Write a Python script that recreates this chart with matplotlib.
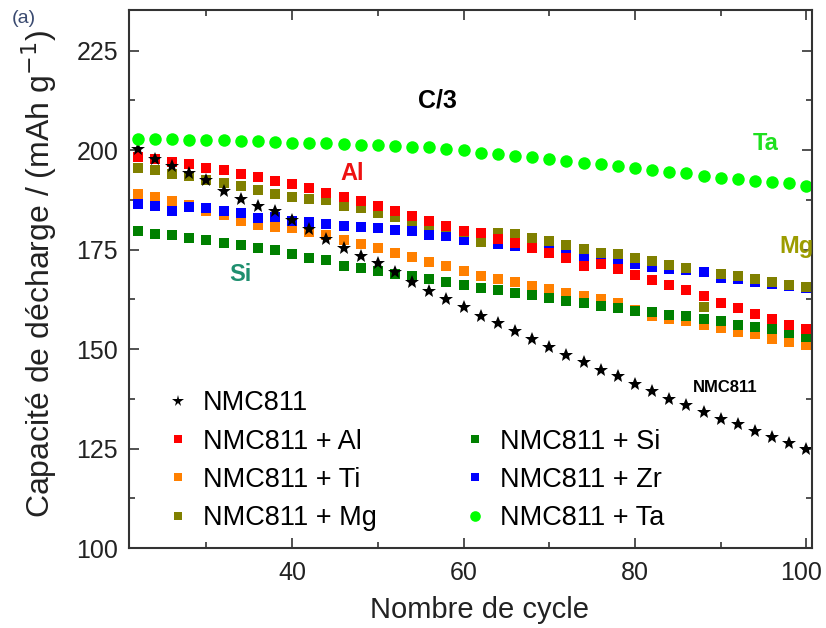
import matplotlib
matplotlib.use("Agg")
import matplotlib.pyplot as plt
from matplotlib.lines import Line2D
from matplotlib.ticker import MultipleLocator
from matplotlib.transforms import ScaledTranslation
import numpy as np

plt.rcParams['font.family'] = ['Liberation Sans', 'DejaVu Sans']

# cycle numbers (one point every 2 cycles)
cycles = np.arange(22, 101, 2)

cap_nmc = [200.2, 197.8, 196.0, 194.3, 192.5, 189.7, 187.8, 186.1, 184.7, 182.5,
           180.2, 177.8, 175.5, 173.4, 171.6, 169.3, 166.8, 164.6, 162.6, 160.6,
           158.4, 156.5, 154.6, 152.5, 150.6, 148.6, 146.7, 144.9, 143.2, 141.2,
           139.4, 137.6, 135.9, 134.2, 132.5, 131.1, 129.4, 128.0, 126.5, 124.9]
cap_al = [198.3, 197.7, 197.1, 196.5, 195.6, 194.9, 194.1, 193.3, 192.2, 191.4,
          190.4, 189.3, 188.2, 187.2, 186.0, 184.8, 183.4, 182.3, 180.9, 179.8,
          179.1, 177.8, 176.6, 175.3, 174.1, 172.8, 171.0, 171.5, 170.1, 168.6,
          167.3, 166.1, 164.8, 163.4, 161.7, 160.4, 158.9, 157.7, 156.1, 155.1]
cap_ti = [189.0, 188.2, 187.2, 186.2, 184.8, 183.6, 182.3, 181.2, 180.6, 180.4,
          179.4, 178.6, 177.5, 176.4, 175.3, 174.1, 173.1, 171.9, 170.8, 169.7,
          168.5, 167.6, 166.8, 165.9, 165.1, 164.2, 163.4, 162.5, 161.6, 159.9,
          158.3, 157.5, 157.0, 156.2, 155.3, 154.4, 153.7, 152.6, 151.7, 151.0]
cap_mg = [195.5, 194.9, 194.0, 193.4, 192.6, 191.7, 190.9, 189.9, 189.0, 188.3,
          187.8, 187.5, 186.1, 185.4, 184.2, 183.1, 182.3, 181.2, 180.6, 179.4,
          177.0, 179.2, 178.9, 177.9, 177.2, 176.2, 175.2, 174.1, 173.8, 172.8,
          172.1, 171.1, 170.5, 160.6, 168.8, 168.3, 167.6, 166.9, 166.2, 165.7]
cap_si = [179.7, 179.0, 178.7, 178.0, 177.4, 176.7, 176.1, 175.5, 174.9, 174.0,
          173.0, 172.3, 171.0, 170.4, 169.6, 169.0, 168.3, 167.6, 167.0, 166.2,
          165.5, 164.9, 164.0, 163.5, 162.8, 162.1, 161.5, 160.9, 160.4, 159.6,
          159.3, 158.7, 158.4, 157.7, 157.0, 156.1, 155.6, 155.0, 154.0, 153.0]
cap_zr = [186.5, 185.9, 184.8, 185.7, 185.5, 184.8, 184.2, 182.9, 183.1, 182.1,
          182.0, 181.5, 180.9, 180.6, 180.5, 179.9, 179.6, 178.8, 178.4, 177.4,
          177.0, 176.4, 176.0, 175.5, 175.0, 174.5, 172.8, 172.5, 171.9, 171.3,
          170.6, 170.2, 169.8, 169.4, 168.0, 167.6, 167.0, 166.5, 165.9, 165.3]
cap_ta = [202.8, 202.7, 202.7, 202.6, 202.6, 202.5, 202.3, 202.2, 202.0, 201.9,
          201.8, 201.7, 201.5, 201.3, 201.3, 201.1, 200.8, 200.7, 200.3, 200.0,
          199.3, 199.1, 198.6, 198.2, 197.8, 197.4, 196.9, 196.5, 196.1, 195.5,
          195.1, 194.6, 194.2, 193.6, 193.1, 192.8, 192.3, 191.9, 191.7, 191.0]

x_ticks = [40, 60, 80, 100]

fig = plt.figure(figsize=(8.26, 6.28), dpi=100)
ax = fig.add_axes([0.1565, 0.127, 0.826, 0.857])

sq = dict(marker='s', linestyle='none', markersize=7.5, markeredgewidth=0)
# draw order chosen so overlaps look like the original
h_ti, = ax.plot(cycles, cap_ti, color='#ff8000', label='NMC811 + Ti', **sq)
h_zr, = ax.plot(cycles, cap_zr, color='#0000ff', label='NMC811 + Zr', **sq)
h_si, = ax.plot(cycles, cap_si, color='#008000', label='NMC811 + Si', **sq)
h_mg, = ax.plot(cycles, cap_mg, color='#808000', label='NMC811 + Mg', **sq)
h_al, = ax.plot(cycles, cap_al, color='#ff0000', label='NMC811 + Al', **sq)
h_nmc, = ax.plot(cycles, cap_nmc, color='black', marker='*', linestyle='none',
                 markersize=10, markeredgewidth=0, label='NMC811')
h_ta, = ax.plot(cycles, cap_ta, color='#00ff00', marker='o', linestyle='none',
                markersize=9, markeredgewidth=0, label='NMC811 + Ta')

ax.set_xlim(21, 100.6)
ax.set_ylim(100, 235.2)
ax.set_xticks(x_ticks)
ax.xaxis.set_minor_locator(MultipleLocator(10))
ax.yaxis.set_major_locator(MultipleLocator(25))
ax.yaxis.set_minor_locator(MultipleLocator(12.5))
ax.tick_params(which='both', direction='in', top=True, right=True,
               labelsize=18, colors='#333333', labelcolor='#222222')
ax.tick_params(which='major', length=7, width=1.2)
ax.tick_params(which='minor', length=4, width=1.2)
ax.tick_params(axis='x', which='major', pad=9)
ax.tick_params(axis='y', which='major', pad=8)
for s in ax.spines.values():
    s.set_linewidth(1.5)
    s.set_color('#333333')

# nudge the "100" label left so it stays inside the figure
last = ax.get_xticklabels()[-1]
last.set_transform(last.get_transform() + ScaledTranslation(-4 / 72, 0, fig.dpi_scale_trans))

ax.set_xlabel('Nombre de cycle', fontsize=21, color='#222222')
ax.xaxis.set_label_coords(0.514, -0.089)
ax.set_ylabel('Capacité de décharge / (mAh g$^{-1}$)', fontsize=23, color='#222222')
ax.yaxis.set_label_coords(-0.103, 0.51)

# in-plot labels
ax.text(56.9, 212.4, 'C/3', fontsize=18, fontweight='bold', ha='center', va='center')
ax.text(95.2, 201.6, 'Ta', fontsize=17, fontweight='bold', color='#1ee01e',
        ha='center', va='center')
ax.text(47, 194.2, 'Al', fontsize=17, fontweight='bold', color='#ee1111',
        ha='center', va='center')
ax.text(98.9, 175.8, 'Mg', fontsize=17, fontweight='bold', color='#9c9c00',
        ha='center', va='center')
ax.text(34, 168.8, 'Si', fontsize=17, fontweight='bold', color='#1f8f6f',
        ha='center', va='center')
ax.text(90.5, 140.4, 'NMC811', fontsize=12, fontweight='bold', ha='center', va='center')

fig.text(0.014, 0.97, '(a)', fontsize=14, color='#3a4a70', ha='left', va='center')

blank = Line2D([], [], linestyle='none')
handles = [h_nmc, h_al, h_ti, h_mg, blank, h_si, h_zr, h_ta]
labels = ['NMC811', 'NMC811 + Al', 'NMC811 + Ti', 'NMC811 + Mg',
          '', 'NMC811 + Si', 'NMC811 + Zr', 'NMC811 + Ta']
ax.legend(handles, labels, ncol=2, loc='lower left', bbox_to_anchor=(0.056, 0.032),
          frameon=False, fontsize=19.5, borderpad=0, borderaxespad=0,
          labelspacing=0.45, handlelength=0.8, handletextpad=0.5,
          columnspacing=3.25, markerscale=0.85)

fig.savefig('out.png', dpi=100)
